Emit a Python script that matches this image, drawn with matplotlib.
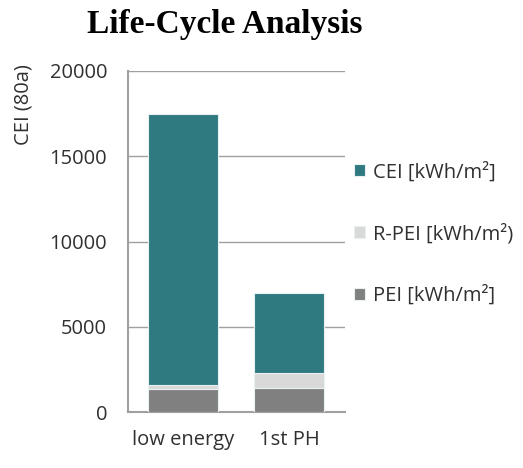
import matplotlib.pyplot as plt
import numpy as np

categories = ['low energy', '1st PH']
pei = [1350, 1400]
r_pei = [250, 870]
cei = [15880, 4690]  # top segment, stacked on PEI + R-PEI
labels = ['PEI [kWh/m²]', 'R-PEI [kWh/m²)', 'CEI [kWh/m²]']
colors = ['#808080', '#D9D9D9', '#2E7A80']
yticks = [0, 5000, 10000, 15000, 20000]

AX_GRAY = '#A0A0A0'
TICK_FONT = 'Open Sans'
FS = 14.5

fig = plt.figure(figsize=(5.23, 4.68), dpi=100)
ax = fig.add_axes([128/523, 1-412/468, 217/523, 341/468])

x = np.arange(len(categories))
width = 0.66
bottom = np.zeros(len(categories))
handles = []
for vals, lab, col in zip([pei, r_pei, cei], labels, colors):
    b = ax.bar(x, vals, width, bottom=bottom, color=col, label=lab,
               edgecolor='#E8F0F0', linewidth=0.8, zorder=3)
    handles.append(b)
    bottom += np.array(vals)

ax.set_xlim(-0.519, 1.528)
ax.set_ylim(0, 20000)
ax.set_yticks(yticks)
ax.set_yticklabels([str(t) for t in yticks], fontsize=FS, family=TICK_FONT, color='#303030')
ax.set_xticks(x)
ax.set_xticklabels(categories, fontsize=FS, family=TICK_FONT, color='#303030')
ax.tick_params(axis='y', length=0, pad=15)
ax.tick_params(axis='x', length=0, pad=13)
ax.grid(axis='y', color=AX_GRAY, linewidth=1.0, zorder=0)
for s in ['top', 'right']:
    ax.spines[s].set_visible(False)
for s in ['left', 'bottom']:
    ax.spines[s].set_color(AX_GRAY)
    ax.spines[s].set_linewidth(1.5)

fig.text(24/523, 1-105/468, 'CEI (80a)', rotation=90, ha='center', va='center',
         fontsize=FS, family=TICK_FONT, color='#303030')
fig.text(225/523, 1-24/468, 'Life-Cycle Analysis', ha='center', va='center',
         fontsize=24, fontweight='bold', family='Liberation Serif')

leg = fig.legend(handles[::-1], labels[::-1], loc='upper left',
                 bbox_to_anchor=(336/523, 1-144/468), frameon=False,
                 prop={'family': TICK_FONT, 'size': FS},
                 handlelength=0.55, handleheight=0.55, handletextpad=0.4,
                 labelspacing=2.05)
for t in leg.get_texts():
    t.set_color('#303030')

fig.savefig('out.png', dpi=100)
